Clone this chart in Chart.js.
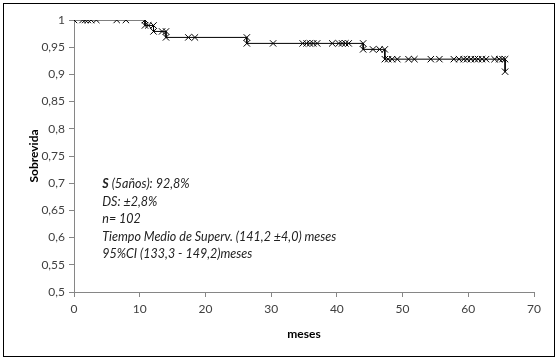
<!DOCTYPE html>
<html>
<head>
<meta charset="utf-8">
<script src="https://cdn.jsdelivr.net/npm/chart.js@4"></script>
<style>
  body { margin: 0; background: #fff; }
  canvas { display: block; }
</style>
</head>
<body>
<canvas id="km" width="558" height="359"></canvas>
<script>
// Kaplan-Meier points: each event appears twice (before / after the drop), censored cases once
const meses = [
  0, 1.3, 1.7, 2.1, 2.6, 3.4, 6.5, 7.9,
  10.8, 10.8, 11.3,
  12.1, 12.1, 13.4,
  14.0, 14.0, 17.4, 18.4,
  26.3, 26.3, 30.3, 34.8, 35.4, 35.9, 36.4, 37.0, 39.3, 40.3, 40.8, 41.3, 41.8,
  44.0, 44.0, 45.5, 46.5,
  47.3, 47.3, 47.8, 48.4, 49.2, 50.9, 51.8, 54.3, 55.6, 57.8, 58.6, 59.3, 59.8, 60.4, 61.0, 61.5, 62.1, 62.7, 64.0, 64.7, 65.2,
  65.6, 65.6
];
const sobrevida = [
  1, 1, 1, 1, 1, 1, 1, 1,
  1, 0.99, 0.99,
  0.99, 0.979, 0.979,
  0.979, 0.968, 0.968, 0.968,
  0.968, 0.957, 0.957, 0.957, 0.957, 0.957, 0.957, 0.957, 0.957, 0.957, 0.957, 0.957, 0.957,
  0.957, 0.946, 0.946, 0.946,
  0.946, 0.928, 0.928, 0.928, 0.928, 0.928, 0.928, 0.928, 0.928, 0.928, 0.928, 0.928, 0.928, 0.928, 0.928, 0.928, 0.928, 0.928, 0.928, 0.928, 0.928,
  0.928, 0.905
];
const resumen = [
  ['S', ' (5años): 92,8%'],
  ['', 'DS: ±2,8%'],
  ['', 'n= 102'],
  ['', 'Tiempo Medio de Superv. (141,2 ±4,0) meses'],
  ['', '95%CI (133,3 - 149,2)meses']
];

const FONT = 'Lato, "Open Sans", sans-serif';
const AXIS = '#868686';

const frame = {
  id: 'frame',
  beforeDraw(chart) {
    const { ctx, width, height } = chart;
    ctx.save();
    ctx.fillStyle = '#fff';
    ctx.fillRect(0, 0, width, height);
    ctx.strokeStyle = '#000';
    ctx.lineWidth = 1;
    ctx.strokeRect(3.5, 3.5, width - 7, height - 6);
    ctx.restore();
  }
};

const nota = {
  id: 'nota',
  afterDraw(chart) {
    const { ctx } = chart;
    const x0 = chart.scales.x.getPixelForValue(4.3);
    let y = chart.scales.y.getPixelForValue(0.698);
    ctx.save();
    ctx.fillStyle = '#222';
    ctx.textBaseline = 'middle';
    resumen.forEach(([b, t]) => {
      let x = x0;
      if (b) {
        ctx.font = 'italic bold 12.5px ' + FONT;
        ctx.fillText(b, x, y);
        x += ctx.measureText(b).width;
      }
      ctx.font = 'italic 12.5px ' + FONT;
      ctx.fillText(t, x, y);
      y += 17.5;
    });
    ctx.restore();
  }
};

new Chart(document.getElementById('km'), {
  type: 'scatter',
  data: {
    datasets: [{
      data: meses.map((m, i) => ({ x: m, y: sobrevida[i] })),
      showLine: true,
      borderColor: '#000',
      borderWidth: 1,
      pointStyle: 'crossRot',
      pointRadius: 4.5,
      pointBorderColor: '#000',
      pointBorderWidth: 1,
      tension: 0
    }]
  },
  options: {
    responsive: false,
    animation: false,
    devicePixelRatio: 1,
    layout: { padding: { top: 20, right: 24, bottom: 0, left: 0 } },
    plugins: { legend: { display: false }, tooltip: { enabled: false } },
    scales: {
      x: {
        type: 'linear',
        min: 0,
        max: 70,
        afterFit: (s) => { s.height = 67; },
        border: { color: AXIS },
        grid: { drawOnChartArea: false, color: AXIS, tickLength: 5 },
        ticks: { stepSize: 10, color: '#404040', font: { family: FONT, size: 12 }, padding: 5 },
        title: { display: true, text: 'meses', color: '#000', font: { family: FONT, size: 12, weight: 'bold' }, padding: { top: 0, bottom: 18 } }
      },
      y: {
        min: 0.5,
        max: 1,
        afterFit: (s) => { s.width = 74; },
        border: { color: AXIS },
        grid: { drawOnChartArea: false, color: AXIS, tickLength: 5 },
        ticks: {
          stepSize: 0.05,
          color: '#404040',
          font: { family: FONT, size: 12 },
          padding: 4,
          callback: (v) => String(+v.toFixed(2)).replace('.', ',')
        },
        title: { display: true, text: 'Sobrevida', color: '#000', font: { family: FONT, size: 12, weight: 'bold' }, padding: { top: 27, bottom: 0 } }
      }
    }
  },
  plugins: [frame, nota]
});
</script>
</body>
</html>
